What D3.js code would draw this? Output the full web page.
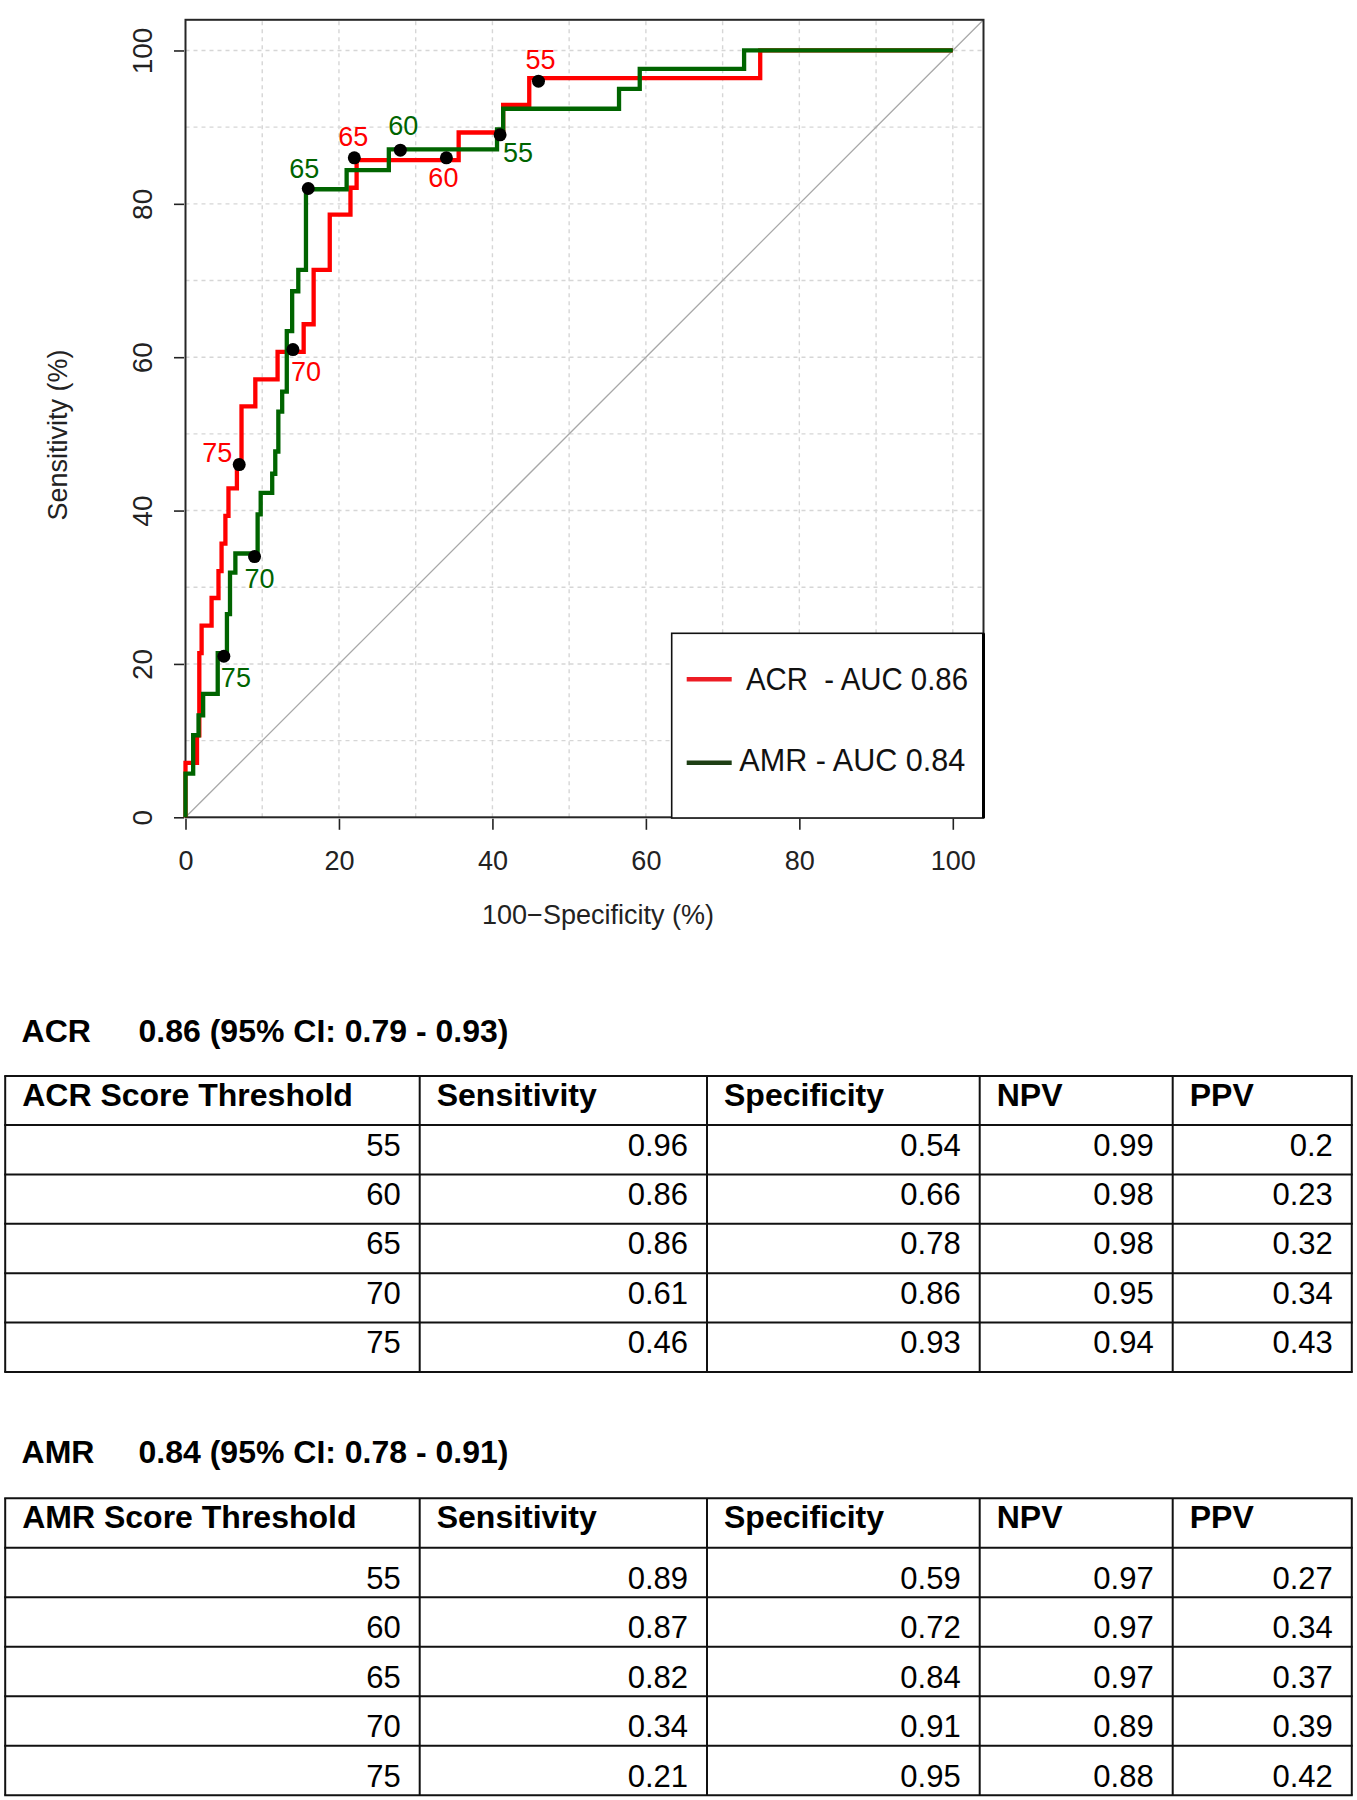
<!DOCTYPE html>
<html>
<head>
<meta charset="utf-8">
<script src="https://cdn.jsdelivr.net/npm/d3@7"></script>
<style>
  html, body { margin: 0; padding: 0; background: #fff; }
  svg { display: block; }
  text { font-family: "Liberation Sans", Arial, sans-serif; }
</style>
</head>
<body>
<svg id="chart" width="1357" height="1800"></svg>
<script>
// ---------------- DATA ----------------
// ROC step curves (x = 100 - specificity %, y = sensitivity %)
const acrFpr  = [0, 0, 1.5, 1.5, 1.8, 1.8, 2.1, 2.1, 3.4, 3.4, 4.3, 4.3, 4.7, 4.7, 5.2, 5.2, 5.6, 5.6, 6.7, 6.7, 7.3, 7.3, 9.1, 9.1, 12.0, 12.0, 15.4, 15.4, 16.7, 16.7, 18.8, 18.8, 21.5, 21.5, 22.3, 22.3, 35.6, 35.6, 41.4, 41.4, 44.8, 44.8, 74.9, 74.9, 100];
const acrSens = [0, 7.1, 7.1, 10.7, 10.7, 21.4, 21.4, 25.0, 25.0, 28.6, 28.6, 32.1, 32.1, 35.7, 35.7, 39.3, 39.3, 42.9, 42.9, 46.4, 46.4, 53.6, 53.6, 57.1, 57.1, 60.7, 60.7, 64.3, 64.3, 71.4, 71.4, 78.6, 78.6, 82.1, 82.1, 85.7, 85.7, 89.3, 89.3, 92.9, 92.9, 96.4, 96.4, 100, 100];

const amrFpr  = [0, 0, 1.0, 1.0, 1.7, 1.7, 2.3, 2.3, 4.2, 4.2, 5.4, 5.4, 5.8, 5.8, 6.5, 6.5, 9.4, 9.4, 9.8, 9.8, 11.3, 11.3, 11.7, 11.7, 12.1, 12.1, 12.6, 12.6, 13.2, 13.2, 13.9, 13.9, 14.7, 14.7, 15.7, 15.7, 21.0, 21.0, 26.5, 26.5, 40.6, 40.6, 41.4, 41.4, 56.5, 56.5, 59.2, 59.2, 72.8, 72.8, 100];
const amrSens = [0, 5.7, 5.7, 10.7, 10.7, 13.3, 13.3, 16.1, 16.1, 21.4, 21.4, 26.5, 26.5, 31.9, 31.9, 34.4, 34.4, 39.5, 39.5, 42.3, 42.3, 44.8, 44.8, 47.7, 47.7, 52.9, 52.9, 55.5, 55.5, 63.4, 63.4, 68.6, 68.6, 71.4, 71.4, 81.9, 81.9, 84.4, 84.4, 87.1, 87.1, 89.7, 89.7, 92.4, 92.4, 95.0, 95.0, 97.6, 97.6, 100, 100];

// Score thresholds and their diagnostic metrics
const thresholds     = [55, 60, 65, 70, 75];
const acrSensitivity = ["0.96", "0.86", "0.86", "0.61", "0.46"];
const acrSpecificity = ["0.54", "0.66", "0.78", "0.86", "0.93"];
const acrNPV         = ["0.99", "0.98", "0.98", "0.95", "0.94"];
const acrPPV         = ["0.2", "0.23", "0.32", "0.34", "0.43"];
const amrSensitivity = ["0.89", "0.87", "0.82", "0.34", "0.21"];
const amrSpecificity = ["0.59", "0.72", "0.84", "0.91", "0.95"];
const amrNPV         = ["0.97", "0.97", "0.97", "0.89", "0.88"];
const amrPPV         = ["0.27", "0.34", "0.37", "0.39", "0.42"];

const xTicks = [0, 20, 40, 60, 80, 100];
const yTicks = [0, 20, 40, 60, 80, 100];
const gridValues = [0, 10, 20, 30, 40, 50, 60, 70, 80, 90, 100];
const legendLabels = ["ACR  - AUC 0.86", "AMR - AUC 0.84"];
const acrTitle = ["ACR", "0.86 (95% CI: 0.79 - 0.93)"];
const amrTitle = ["AMR", "0.84 (95% CI: 0.78 - 0.91)"];
const acrColumns = ["ACR Score Threshold", "Sensitivity", "Specificity", "NPV", "PPV"];
const amrColumns = ["AMR Score Threshold", "Sensitivity", "Specificity", "NPV", "PPV"];

// ---------------- STYLE / LAYOUT ----------------
const RED = "#ff0000", GREEN = "#006400";
const svg = d3.select("#chart");
svg.append("rect").attr("width", 1357).attr("height", 1800).attr("fill", "#fff");

const x = d3.scaleLinear().domain([0, 104]).range([185.5, 983.5]);
const y = d3.scaleLinear().domain([0, 104]).range([817.3, 19.8]);

const plot = svg.append("g");

// grid
plot.append("g").selectAll("line.v").data(gridValues.filter(d => d > 0)).join("line")
  .attr("x1", d => x(d)).attr("x2", d => x(d)).attr("y1", y(0)).attr("y2", y(104))
  .attr("stroke", "#d6d6d6").attr("stroke-width", 1.4).attr("stroke-dasharray", "4,4");
plot.append("g").selectAll("line.h").data(gridValues.filter(d => d > 0)).join("line")
  .attr("x1", x(0)).attr("x2", x(104)).attr("y1", d => y(d)).attr("y2", d => y(d))
  .attr("stroke", "#d6d6d6").attr("stroke-width", 1.4).attr("stroke-dasharray", "4,4");

// diagonal
plot.append("line").attr("x1", x(0)).attr("y1", y(0)).attr("x2", x(104)).attr("y2", y(104))
  .attr("stroke", "#a8a8a8").attr("stroke-width", 1.3);

// frame
plot.append("rect").attr("x", x(0)).attr("y", y(104)).attr("width", x(104) - x(0)).attr("height", y(0) - y(104))
  .attr("fill", "none").attr("stroke", "#262626").attr("stroke-width", 2);

// axes
const xAxis = d3.axisBottom(x).tickValues(xTicks).tickSize(11).tickPadding(21).tickFormat(d3.format("d"));
const gx = plot.append("g").attr("transform", `translate(0,${y(0) + 1.5})`).call(xAxis);
gx.select(".domain").remove();
gx.selectAll(".tick line").attr("stroke", "#222").attr("stroke-width", 1.6);
gx.selectAll(".tick text").attr("font-size", 27).attr("fill", "#222")
  .attr("font-family", "'Liberation Sans', Arial, sans-serif");

const yAxis = d3.axisLeft(y).tickValues(yTicks).tickSize(10).tickFormat(d3.format("d"));
const gy = plot.append("g").attr("transform", `translate(${x(0) - 1.5},0)`).call(yAxis);
gy.select(".domain").remove();
gy.selectAll(".tick line").attr("stroke", "#222").attr("stroke-width", 1.6);
gy.selectAll(".tick text").attr("font-size", 28).attr("fill", "#222")
  .attr("font-family", "'Liberation Sans', Arial, sans-serif")
  .attr("x", null).attr("dy", null).attr("text-anchor", "middle")
  .attr("transform", `translate(${152 - (x(0) - 1.5)},0) rotate(-90)`);

// axis titles
plot.append("text").attr("x", 598).attr("y", 924).attr("text-anchor", "middle")
  .attr("font-size", 27).attr("fill", "#222").text("100\u2212Specificity (%)");
plot.append("text").attr("transform", "translate(67,435) rotate(-90)").attr("text-anchor", "middle")
  .attr("font-size", 27).attr("fill", "#222").text("Sensitivity (%)");

// curves
const line = d3.line().x(d => x(d[0])).y(d => y(d[1]));
plot.append("path").datum(d3.zip(acrFpr, acrSens)).attr("d", line)
  .attr("fill", "none").attr("stroke", RED).attr("stroke-width", 4.3).attr("stroke-linejoin", "miter");
plot.append("path").datum(d3.zip(amrFpr, amrSens)).attr("d", line)
  .attr("fill", "none").attr("stroke", GREEN).attr("stroke-width", 4.3).attr("stroke-linejoin", "miter");

// threshold points & labels
const acrLabelPos = {55: [2, -12, "middle"], 60: [-3, 29, "middle"], 65: [-1, -12, "middle"], 70: [-2, 31, "start"], 75: [-7, -3, "end"]};
const amrLabelPos = {55: [3, 27, "start"], 60: [3, -15, "middle"], 65: [-4, -11, "middle"], 70: [-10, 31, "start"], 75: [-3, 31, "start"]};

function drawPoints(sens, spec, color, pos) {
  const pts = thresholds.map((t, i) => ({t, fx: 100 - (+spec[i]) * 100, sy: (+sens[i]) * 100}));
  const g = plot.append("g");
  g.selectAll("circle").data(pts).join("circle")
    .attr("cx", d => x(d.fx)).attr("cy", d => y(d.sy)).attr("r", 6.5).attr("fill", "#000");
  g.selectAll("text").data(pts).join("text")
    .attr("x", d => x(d.fx) + pos[d.t][0]).attr("y", d => y(d.sy) + pos[d.t][1])
    .attr("text-anchor", d => pos[d.t][2])
    .attr("font-size", 27).attr("fill", color).text(d => d.t);
}
drawPoints(acrSensitivity, acrSpecificity, RED, acrLabelPos);
drawPoints(amrSensitivity, amrSpecificity, GREEN, amrLabelPos);

// legend
const lg = plot.append("g");
lg.append("rect").attr("x", 671.7).attr("y", 633.3).attr("width", 983.5 - 671.7).attr("height", 818 - 633.3)
  .attr("fill", "#fff").attr("stroke", "#111").attr("stroke-width", 1.6);
lg.append("line").attr("x1", x(104)).attr("x2", x(104)).attr("y1", 633.3).attr("y2", 818)
  .attr("stroke", "#000").attr("stroke-width", 3);
const legendColors = ["#ed1c24", "#1e3f14"];
const legendY = [679.3, 762.7];
const legendTextX = [746, 739.3];
const legendTextY = [689.6, 771];
const legendTextW = [222, 226];
legendLabels.forEach((lab, i) => {
  lg.append("line").attr("x1", 686.7).attr("x2", 731.7).attr("y1", legendY[i]).attr("y2", legendY[i])
    .attr("stroke", legendColors[i]).attr("stroke-width", 4.5);
  lg.append("text").attr("x", legendTextX[i]).attr("y", legendTextY[i])
    .attr("font-family", "Carlito, Lato, 'Open Sans', sans-serif").attr("font-size", 32)
    .attr("fill", "#111").style("white-space", "pre")
    .attr("textLength", legendTextW[i]).attr("lengthAdjust", "spacingAndGlyphs")
    .text(lab);
});

// ---------------- TABLES ----------------
const colEdges = [5.2, 419.7, 707, 979.7, 1172.7, 1351.8];

function drawTable(title, titleY, columns, top, headH, rowH, dataBase, cols) {
  const g = svg.append("g");
  g.append("text").attr("x", 21.6).attr("y", titleY).attr("font-size", 32).attr("font-weight", "bold")
    .attr("fill", "#000").text(title[0]);
  g.append("text").attr("x", 138.5).attr("y", titleY).attr("font-size", 32).attr("font-weight", "bold")
    .attr("fill", "#000").text(title[1]);

  const nRows = thresholds.length;
  const bottom = top + headH + nRows * rowH;
  const hLines = [top, top + headH].concat(thresholds.map((t, i) => top + headH + (i + 1) * rowH));
  g.selectAll("line.h").data(hLines).join("line")
    .attr("x1", colEdges[0] - 1).attr("x2", colEdges[colEdges.length - 1] + 1)
    .attr("y1", d => d).attr("y2", d => d).attr("stroke", "#111").attr("stroke-width", 2);
  g.selectAll("line.v").data(colEdges).join("line")
    .attr("x1", d => d).attr("x2", d => d).attr("y1", top).attr("y2", bottom)
    .attr("stroke", "#111").attr("stroke-width", 2);

  columns.forEach((c, j) => {
    g.append("text").attr("x", colEdges[j] + 17).attr("y", top + 29.5)
      .attr("font-size", 32).attr("font-weight", "bold").attr("fill", "#000").text(c);
  });
  thresholds.forEach((t, i) => {
    const rowTop = top + headH + i * rowH;
    const vals = [String(t)].concat(cols.map(a => a[i]));
    vals.forEach((v, j) => {
      g.append("text").attr("x", colEdges[j + 1] - 19).attr("y", rowTop + dataBase)
        .attr("text-anchor", "end").attr("font-size", 31).attr("fill", "#000").text(v);
    });
  });
}

drawTable(acrTitle, 1041.7, acrColumns, 1076, 49, 49.4, 30.5,
  [acrSensitivity, acrSpecificity, acrNPV, acrPPV]);
drawTable(amrTitle, 1463.3, amrColumns, 1498.3, 49.4, 49.5, 41,
  [amrSensitivity, amrSpecificity, amrNPV, amrPPV]);
</script>
</body>
</html>
